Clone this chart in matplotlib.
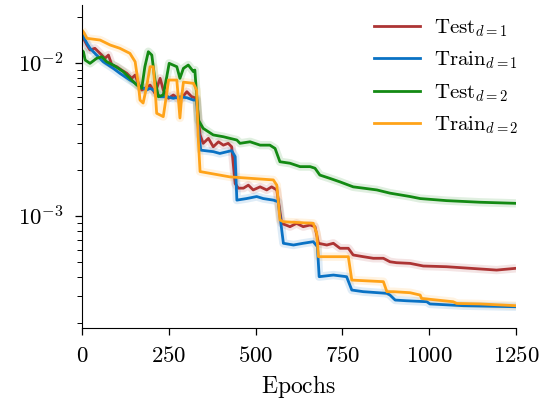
import numpy as np
import matplotlib
matplotlib.use("Agg")
import matplotlib.pyplot as plt
from matplotlib.ticker import FuncFormatter, NullFormatter, LogLocator

plt.rcParams['mathtext.fontset'] = 'cm'
plt.rcParams['font.family'] = ['DejaVu Serif']

# Test d=1 (red)
test1_ep = [0, 4, 14, 23, 37, 52, 66, 76, 86, 100, 114, 129, 143, 153, 162, 172, 181, 196, 210, 225,
            234, 249, 263, 282, 302, 316, 330, 340, 349, 364, 378, 393, 407, 421, 431, 441, 450, 465,
            479, 493, 513, 532, 546, 561, 575, 599, 618, 637, 657, 671, 681, 705, 724, 743, 767, 781,
            810, 839, 868, 887, 906, 945, 983, 1050, 1118, 1194, 1250]
test1_loss = [0.0150, 0.01443, 0.01305, 0.01210, 0.01242, 0.01151, 0.01068, 0.01122, 0.00966, 0.00942,
              0.00896, 0.00853, 0.00791, 0.00831, 0.00734, 0.00664, 0.00681, 0.00715, 0.00632, 0.00791,
              0.00664, 0.00586, 0.00616, 0.00571, 0.00647, 0.00600, 0.00586, 0.00338, 0.00298, 0.00321,
              0.00283, 0.00305, 0.00290, 0.00298, 0.00283, 0.00163, 0.00152, 0.00152, 0.00159, 0.00148,
              0.00155, 0.00148, 0.00155, 0.00148, 0.000896, 0.000852, 0.000896, 0.000852, 0.000874,
              0.000852, 0.000664, 0.000647, 0.000664, 0.000616, 0.000616, 0.000557, 0.000543, 0.000530,
              0.000530, 0.000503, 0.000496, 0.000491, 0.000472, 0.000467, 0.000456, 0.000444, 0.000456]

# Train d=1 (blue)
train1_ep = [0, 4, 14, 23, 42, 61, 90, 109, 138, 162, 177, 186, 196, 205, 225, 244, 263, 282, 302, 321,
             330, 335, 342, 378, 397, 431, 441, 446, 474, 503, 522, 551, 565, 580, 609, 637, 666, 678,
             683, 724, 762, 777, 810, 878, 887, 902, 935, 993, 1002, 1098, 1250]
train1_loss = [0.0155, 0.01479, 0.01339, 0.01242, 0.01122, 0.01015, 0.00919, 0.00853, 0.00771, 0.00715,
               0.00681, 0.00664, 0.00681, 0.00664, 0.00600, 0.00600, 0.00586, 0.00600, 0.00591, 0.00571,
               0.00571, 0.00373, 0.00269, 0.00263, 0.00256, 0.00267, 0.00244, 0.00127, 0.00130, 0.00134,
               0.00130, 0.00127, 0.00124, 0.000664, 0.000647, 0.000664, 0.000680, 0.000631, 0.000402,
               0.000412, 0.000402, 0.000329, 0.000321, 0.000313, 0.000305, 0.000283, 0.000280, 0.000276,
               0.000267, 0.000260, 0.000256]

# Test d=2 (green)
test2_ep = [0, 4, 9, 23, 42, 57, 71, 90, 119, 138, 158, 172, 181, 191, 201, 210, 220, 234, 244, 251,
            273, 282, 292, 306, 321, 325, 335, 349, 378, 407, 446, 455, 484, 513, 541, 556, 570, 599,
            628, 657, 671, 685, 714, 743, 781, 810, 849, 887, 945, 974, 1050, 1146, 1250]
test2_loss = [0.0120, 0.01180, 0.01041, 0.00991, 0.01068, 0.01094, 0.01015, 0.00966, 0.00874, 0.00791,
              0.00715, 0.00681, 0.00942, 0.01180, 0.01122, 0.00771, 0.00600, 0.00616, 0.00810, 0.00991,
              0.00942, 0.00791, 0.00919, 0.00966, 0.00874, 0.00896, 0.00423, 0.00373, 0.00338, 0.00329,
              0.00313, 0.00298, 0.00305, 0.00290, 0.00290, 0.00276, 0.00226, 0.00221, 0.00210, 0.00210,
              0.00205, 0.00185, 0.00176, 0.00167, 0.00155, 0.00152, 0.00148, 0.00141, 0.00134, 0.00130,
              0.00126, 0.00123, 0.00121]

# Train d=2 (orange)
train2_ep = [0, 4, 14, 52, 81, 109, 138, 153, 162, 167, 176, 186, 196, 205, 210, 215, 234, 244, 249, 273,
             277, 282, 287, 292, 321, 330, 335, 340, 426, 551, 561, 570, 580, 666, 676, 681, 767, 777,
             868, 878, 897, 945, 974, 978, 1069, 1079, 1146, 1250]
train2_loss = [0.0163, 0.0159, 0.01443, 0.01406, 0.01305, 0.01242, 0.01151, 0.01015, 0.00734, 0.00571,
               0.00546, 0.00697, 0.00942, 0.00942, 0.00697, 0.00468, 0.00445, 0.00632, 0.00771, 0.00771,
               0.00600, 0.00436, 0.00600, 0.00747, 0.00734, 0.00664, 0.00313, 0.00195, 0.00180, 0.00172,
               0.00159, 0.000942, 0.000918, 0.000896, 0.000771, 0.000543, 0.000543, 0.000382, 0.000373,
               0.000321, 0.000321, 0.000316, 0.000305, 0.000290, 0.000276, 0.000269, 0.000267, 0.000260]

series = [
    (test1_ep, test1_loss, '#ad3434', r'$\mathrm{Test}_{d=1}$'),
    (train1_ep, train1_loss, '#0a72c4', r'$\mathrm{Train}_{d=1}$'),
    (test2_ep, test2_loss, '#138a13', r'$\mathrm{Test}_{d=2}$'),
    (train2_ep, train2_loss, '#ffa319', r'$\mathrm{Train}_{d=2}$'),
]

fig = plt.figure(figsize=(5.52, 4.07), dpi=100)
ax = fig.add_axes([0.1486, 0.1941, 0.7862, 0.7936])

# faint halo first, then the main lines
for ep, loss, c, lab in series:
    ax.plot(ep, loss, color=c, lw=6, alpha=0.13, solid_capstyle='butt')
for ep, loss, c, lab in series:
    ax.plot(ep, loss, color=c, lw=2.0, label=lab)

ax.set_yscale('log')
ax.set_xlim(0, 1250)
ax.set_ylim(1.86e-4, 0.0238)
ax.set_xticks([0, 250, 500, 750, 1000, 1250])
ax.xaxis.set_major_formatter(FuncFormatter(lambda v, p: '$%d$' % v))
ax.yaxis.set_major_locator(LogLocator(base=10))
ax.yaxis.set_major_formatter(FuncFormatter(lambda v, p: '$10^{%d}$' % round(np.log10(v))))
ax.yaxis.set_minor_locator(LogLocator(base=10, subs=np.arange(2, 10)))
ax.yaxis.set_minor_formatter(NullFormatter())
ax.tick_params(which='major', length=5, width=0.9, labelsize=16.5, direction='out', pad=7.3)
ax.tick_params(axis='y', which='major', pad=8.5)
ax.tick_params(which='minor', length=3.3, width=0.7)
ax.spines['top'].set_visible(False)
ax.spines['right'].set_visible(False)
ax.set_xlabel(r'$\mathrm{Epochs}$', fontsize=17, labelpad=4)

ax.legend(loc='upper right', bbox_to_anchor=(1.05, 1.02), frameon=False, fontsize=15,
          handlelength=2.2, labelspacing=0.52, handletextpad=0.7)

fig.savefig('out.png', dpi=100)
